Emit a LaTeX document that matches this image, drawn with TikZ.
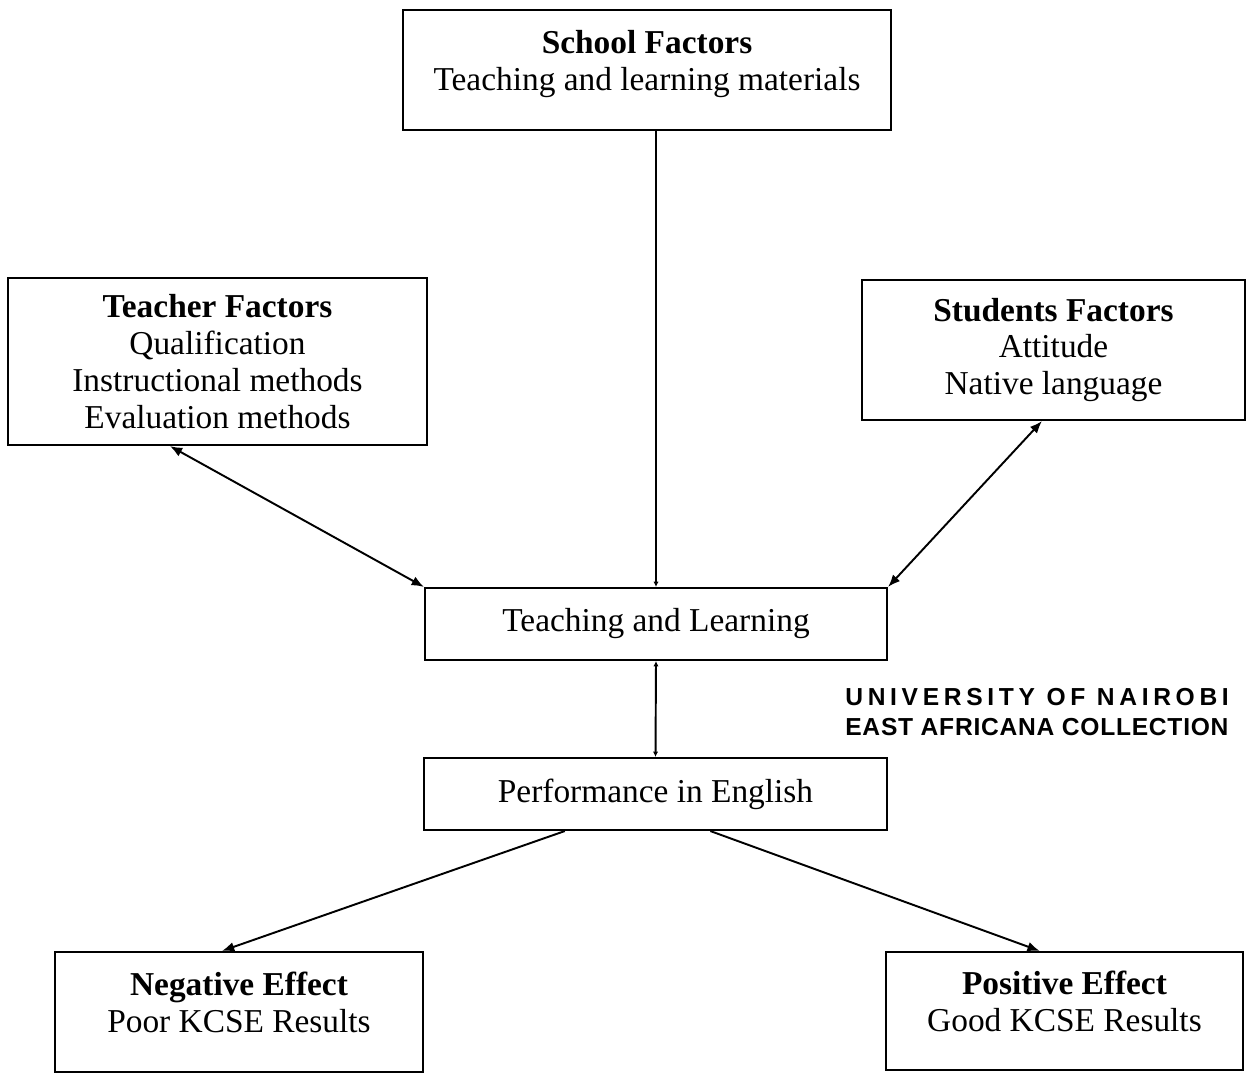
\documentclass[tikz,border=0pt]{standalone}
\usepackage{fontspec}
\setmainfont{Liberation Serif}
\newfontfamily\stampfont{Liberation Sans}
\usetikzlibrary{arrows.meta,calc}

\begin{document}
\begin{tikzpicture}[>={Latex[length=7pt,width=5.5pt]},
  every node/.style={font=\fontsize{19}{21}\selectfont},
  factorbox/.style={draw, line width=1.2pt, align=center, inner sep=0pt},
  link/.style={line width=1.1pt},
  tinytip/.style={line width=1.1pt, -{Latex[length=3pt,width=3pt]}}]
  \useasboundingbox (0,0) rectangle (24.96,-21.48);
  % Faktoren
  \node[factorbox, minimum width=9.76cm, minimum height=2.4cm] (school) at (12.94,-1.40)
    {\textbf{School Factors}\\Teaching and learning materials\\[-10pt]~};
  \node[factorbox, minimum width=8.38cm, minimum height=3.34cm] (teacher) at (4.35,-7.23)
    {\textbf{Teacher Factors}\\Qualification\\Instructional methods\\Evaluation methods};
  \node[factorbox, minimum width=7.66cm, minimum height=2.8cm] (students) at (21.07,-7.0)
    {\textbf{Students Factors}\\Attitude\\Native language};
  % Prozess
  \node[factorbox, minimum width=9.24cm, minimum height=1.44cm] (teaching) at (13.12,-12.48)
    {Teaching and Learning};
  \node[factorbox, minimum width=9.26cm, minimum height=1.44cm] (performance) at (13.11,-15.88)
    {Performance in English};
  % Effekte
  \node[factorbox, minimum width=7.36cm, minimum height=2.4cm] (negative) at (4.78,-20.24)
    {\textbf{Negative Effect}\\Poor KCSE Results\\[-10pt]~};
  \node[factorbox, minimum width=7.14cm, minimum height=2.36cm] (positive) at (21.29,-20.22)
    {\textbf{Positive Effect}\\Good KCSE Results\\[-10pt]~};
  % Stempel
  \node[anchor=west, align=left, inner sep=0pt,
        font=\fontsize{14}{17}\stampfont\bfseries] (stamp) at (16.9,-14.24)
    {{\addfontfeature{LetterSpace=19}UNIVERSITY OF NAIROBI}\\
     {\addfontfeature{LetterSpace=3}EAST AFRICANA COLLECTION}};
  % Verbindungen
  \draw[tinytip] (school.south -| teaching.north) -- (teaching.north);
  \draw[link, <->] ($(teacher.south west)!0.387!(teacher.south east)$) -- (teaching.north west);
  \draw[link, <->] ($(students.south west)!0.47!(students.south east)$) -- (teaching.north east);
  \draw[tinytip, {Latex[length=3pt,width=3pt]}-{Latex[length=3pt,width=3pt]}] (teaching.south) -- (performance.north);
  \draw[link, ->] ($(performance.south west)!0.305!(performance.south east)$) -- ($(negative.north west)!0.454!(negative.north east)$);
  \draw[link, ->] ($(performance.south west)!0.618!(performance.south east)$) -- ($(positive.north west)!0.431!(positive.north east)$);
\end{tikzpicture}
\end{document}
